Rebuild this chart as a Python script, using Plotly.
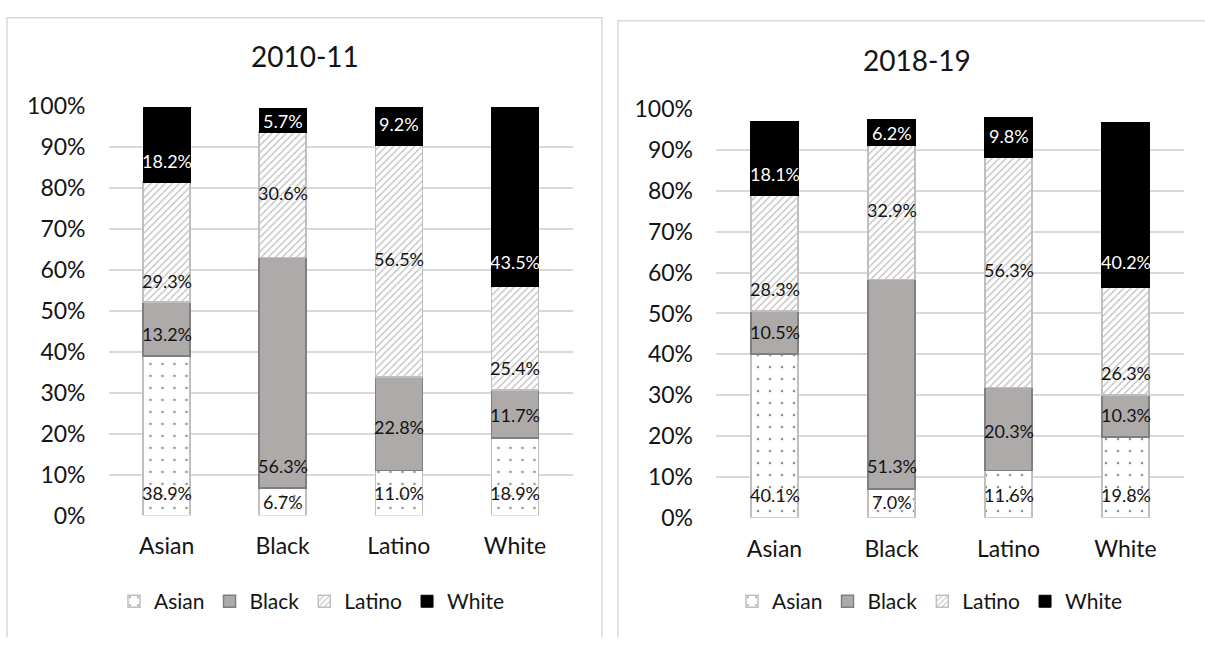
import plotly.graph_objects as go

# ── Data ─────────────────────────────────────────────────────────────────────
CATEGORIES = ["Asian", "Black", "Latino", "White"]
SERIES = ["Asian", "Black", "Latino", "White"]

# share (%) of each group, per category bar
ASIAN_1011 = [38.9, 6.7, 11.0, 18.9]
BLACK_1011 = [13.2, 56.3, 22.8, 11.7]
LATINO_1011 = [29.3, 30.6, 56.5, 25.4]
WHITE_1011 = [18.2, 5.7, 9.2, 43.5]

ASIAN_1819 = [40.1, 7.0, 11.6, 19.8]
BLACK_1819 = [10.5, 51.3, 20.3, 10.3]
LATINO_1819 = [28.3, 32.9, 56.3, 26.3]
WHITE_1819 = [18.1, 6.2, 9.8, 40.2]

TITLES = ["2010-11", "2018-19"]
Y_TICKS = [0, 10, 20, 30, 40, 50, 60, 70, 80, 90, 100]

# ── Label placement (y in axis %, as laid out in the original) ───────────────
LABEL_Y_1011 = {
    "Asian": [5.4, 3.3, 5.4, 5.4],
    "Black": [44.3, 12.0, 21.7, 24.5],
    "Latino": [57.2, 78.7, 62.6, 36.1],
    "White": [86.5, 96.3, 95.7, 61.8],
}
LABEL_Y_1819 = {
    "Asian": [5.6, 3.8, 5.6, 5.6],
    "Black": [45.4, 12.6, 21.2, 25.1],
    "Latino": [55.9, 75.4, 60.6, 35.5],
    "White": [84.2, 94.1, 93.5, 62.5],
}

# ── Styling ──────────────────────────────────────────────────────────────────
W, H = 1205, 650
_FONT = "Lato, Carlito, Calibri, sans-serif"
_TXT = "#141414"
_GRID = "#d9d9d9"

_MARKERS = {
    "Asian": dict(color="white", line=dict(color="#bfbfbf", width=1.5),
                  pattern=dict(shape=".", fgcolor="#262626", bgcolor="white",
                               size=12, solidity=0.04, fillmode="overlay")),
    "Black": dict(color="#aeaaaa", line=dict(color="#7f7f7f", width=1.5)),
    "Latino": dict(color="white", line=dict(color="#bfbfbf", width=1.5),
                   pattern=dict(shape="/", fgcolor="#767676", bgcolor="white",
                                size=5, solidity=0.24, fillmode="overlay")),
    "White": dict(color="black", line=dict(color="black", width=1)),
}


def px_x(v):
    return v / W


def px_y(v):
    return 1 - v / H


panels = [
    dict(vals=dict(Asian=ASIAN_1011, Black=BLACK_1011, Latino=LATINO_1011, White=WHITE_1011),
         lab=LABEL_Y_1011, xa="x", ya="y", legend="legend",
         xdom=[px_x(108.5), px_x(573)], ydom=[px_y(523), px_y(95)],
         title_xy=(305, 43), legend_x=312),
    dict(vals=dict(Asian=ASIAN_1819, Black=BLACK_1819, Latino=LATINO_1819, White=WHITE_1819),
         lab=LABEL_Y_1819, xa="x2", ya="y2", legend="legend2",
         xdom=[px_x(716), px_x(1184)], ydom=[px_y(525.5), px_y(98.3)],
         title_xy=(917, 47), legend_x=930),
]

fig = go.Figure()
annotations = []

for i, p in enumerate(panels):
    for s in SERIES:
        fig.add_trace(go.Bar(
            name=s, x=CATEGORIES, y=p["vals"][s],
            xaxis=p["xa"], yaxis=p["ya"], legend=p["legend"],
            marker=_MARKERS[s],
            hovertemplate=f"{s}: %{{y:.1f}}%<extra>%{{x}}</extra>",
        ))
        # data labels sit where the original chart had them, not centred
        for cat, v, ly in zip(CATEGORIES, p["vals"][s], p["lab"][s]):
            annotations.append(dict(
                x=cat, y=ly, xref=p["xa"], yref=p["ya"],
                text=f"{v:.1f}%", showarrow=False,
                font=dict(family=_FONT, size=18,
                          color="white" if s == "White" else _TXT),
            ))
    tx, ty = p["title_xy"]
    annotations.append(dict(
        x=px_x(tx), y=px_y(ty), xref="paper", yref="paper",
        text=TITLES[i], showarrow=False, xanchor="center", yanchor="middle",
        font=dict(family=_FONT, size=28, color=_TXT),
    ))

_AX_X = dict(type="category", showgrid=False, showline=False, zeroline=False,
             ticks="", ticklabelstandoff=15,
             tickfont=dict(family=_FONT, size=23, color=_TXT))
_AX_Y = dict(range=[0, 100], tickmode="array", tickvals=Y_TICKS,
             ticktext=[f"{v}%" for v in Y_TICKS],
             showgrid=True, gridcolor=_GRID, gridwidth=1.5,
             zeroline=False, showline=False, ticks="", ticklabelstandoff=22,
             tickfont=dict(family=_FONT, size=23, color=_TXT))

_LEG = dict(orientation="h", xanchor="center", yanchor="middle",
            bgcolor="rgba(0,0,0,0)", font=dict(family=_FONT, size=21, color=_TXT),
            traceorder="normal", itemwidth=30)

# panel frames (top, left, right edges; the bottom runs off the picture)
shapes = [
    dict(type="path", xref="paper", yref="paper",
         path=f"M {px_x(7)},{px_y(650)} L {px_x(7)},{px_y(3)} L {px_x(602)},{px_y(3)} L {px_x(602)},{px_y(650)}",
         line=dict(color=_GRID, width=1.5)),
    dict(type="path", xref="paper", yref="paper",
         path=f"M {px_x(618)},{px_y(650)} L {px_x(618)},{px_y(6)} L {px_x(1205)},{px_y(6)}",
         line=dict(color=_GRID, width=1.5)),
]

fig.update_layout(
    width=W, height=H,
    margin=dict(l=0, r=0, t=0, b=0),
    paper_bgcolor="white", plot_bgcolor="rgba(0,0,0,0)",
    barmode="stack", bargap=0.595,
    font=dict(family=_FONT, color=_TXT),
    xaxis=dict(**_AX_X, domain=panels[0]["xdom"], anchor="y"),
    yaxis=dict(**_AX_Y, domain=panels[0]["ydom"], anchor="x"),
    xaxis2=dict(**_AX_X, domain=panels[1]["xdom"], anchor="y2"),
    yaxis2=dict(**_AX_Y, domain=panels[1]["ydom"], anchor="x2"),
    legend=dict(**_LEG, x=px_x(panels[0]["legend_x"]), y=px_y(613)),
    legend2=dict(**_LEG, x=px_x(panels[1]["legend_x"]), y=px_y(613)),
    annotations=annotations,
    shapes=shapes,
)

# pin the chart to the page corner so the 1205x650 window shows it 1:1
_PIN = (
    "document.body.style.margin='0';"
    "var g=document.getElementById('{plot_id}');"
    "g.style.position='fixed';g.style.left='0';g.style.top='0';"
)
fig.write_html("out.html", post_script=_PIN, config=dict(displayModeBar=False))
